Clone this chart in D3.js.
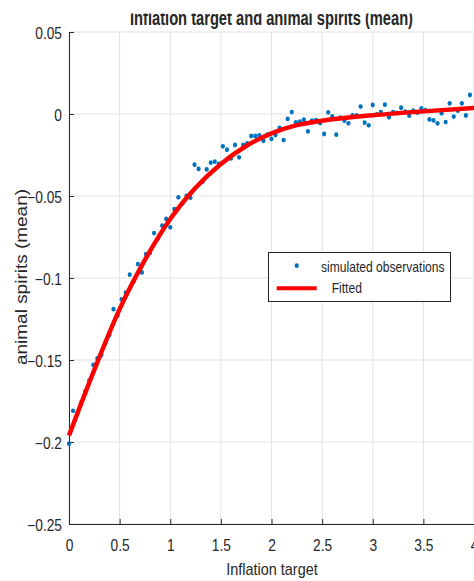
<!DOCTYPE html>
<meta charset="utf-8">
<script src="https://d3js.org/d3.v7.min.js"></script>
<style>
    body { margin: 0; background: #fff; }
    text { font-family: "Liberation Sans", Arial, sans-serif; fill: #262626; }
</style>
<div id="my_dataviz"></div>
<script>
    // simulated observations (inflation target, animal spirits mean)
    var obsX = [0, 0.04, 0.08, 0.12, 0.16, 0.20, 0.24, 0.28, 0.32, 0.36, 0.40, 0.44, 0.48, 0.52, 0.56, 0.60, 0.64, 0.68, 0.72, 0.76,
        0.80, 0.84, 0.88, 0.92, 0.96, 1.00, 1.04, 1.08, 1.12, 1.16, 1.20, 1.24, 1.28, 1.32, 1.36, 1.40, 1.44, 1.48, 1.52, 1.56,
        1.60, 1.64, 1.68, 1.72, 1.76, 1.80, 1.84, 1.88, 1.92, 1.96, 2.00, 2.04, 2.08, 2.12, 2.16, 2.20, 2.24, 2.28, 2.32, 2.36,
        2.40, 2.44, 2.48, 2.52, 2.56, 2.60, 2.64, 2.68, 2.72, 2.76, 2.80, 2.84, 2.88, 2.92, 2.96, 3.00, 3.04, 3.08, 3.12, 3.16,
        3.20, 3.24, 3.28, 3.32, 3.36, 3.40, 3.44, 3.48, 3.52, 3.56, 3.60, 3.64, 3.68, 3.72, 3.76, 3.80, 3.84, 3.88, 3.92, 3.96];
    var obsY = [-0.201, -0.181, -0.1826, -0.176, -0.169, -0.1626, -0.153, -0.149, -0.147, -0.1396, -0.1348, -0.119, -0.1228, -0.113, -0.109, -0.098, -0.102, -0.0915, -0.0966, -0.0854,
        -0.0848, -0.0726, -0.0758, -0.0681, -0.064, -0.0691, -0.058, -0.0508, -0.0545, -0.050, -0.051, -0.0309, -0.0335, -0.0413, -0.0338, -0.0297, -0.0291, -0.0305, -0.0197, -0.0218,
        -0.0271, -0.0189, -0.0264, -0.0189, -0.0179, -0.0134, -0.0134, -0.013, -0.0163, -0.0126, -0.0152, -0.0128, -0.0084, -0.0159, -0.003, 0.0012, -0.0051, -0.0047, -0.0035, -0.0106,
        -0.0041, -0.0037, -0.0055, -0.0122, 0.001, -0.0015, -0.0126, -0.0023, -0.0041, -0.0057, -0.0009, -0.0009, 0.0045, -0.0053, -0.0069, 0.0055, -0.0002, 0.0012, 0.0057, -0.002,
        0.0012, 0.0006, 0.0038, 0.0014, -0.001, 0.002, 0.0008, 0.0034, 0.0024, -0.0033, -0.0039, -0.0057, 0.0004, -0.0049, 0.0065, -0.0016, 0.002, 0.0065, -0.0009, 0.0116];

    // fitted curve
    var fitX = [0, 0.25, 0.5, 0.75, 1, 1.25, 1.5, 1.75, 2, 2.25, 2.5, 3, 3.5, 4];
    var fitY = [-0.196, -0.156, -0.119, -0.089, -0.064, -0.045, -0.0305, -0.0195, -0.0118, -0.0068, -0.0041, -0.0008, 0.0016, 0.0036];

    var xTicks = [0, 0.5, 1, 1.5, 2, 2.5, 3, 3.5, 4];
    var yTicks = [0.05, 0, -0.05, -0.1, -0.15, -0.2, -0.25];

    var margin = { top: 32, right: 0, bottom: 57, left: 69 },
        width = 474 - margin.left - margin.right,
        height = 581 - margin.top - margin.bottom;

    // the picture is stretched vertically, so squeeze text horizontally
    function narrow(sel, k) {
        sel.each(function () {
            var w = this.getComputedTextLength();
            d3.select(this).attr("textLength", w * k).attr("lengthAdjust", "spacingAndGlyphs");
        });
    }

    var root = d3.select("#my_dataviz")
        .append("svg")
        .attr("width", 474)
        .attr("height", 581);

    var svg = root.append("g")
        .attr("transform", "translate(" + margin.left + "," + margin.top + ")");

    var x = d3.scaleLinear().domain([0, 4]).range([0, 405]);
    var y = d3.scaleLinear().domain([-0.25, 0.05]).range([height, 0]);

    // grid
    svg.append("g")
        .selectAll("line")
        .data(xTicks)
        .enter().append("line")
        .attr("x1", function (d) { return x(d); })
        .attr("x2", function (d) { return x(d); })
        .attr("y1", 0).attr("y2", height)
        .attr("stroke", "#e3e3e3");
    svg.append("g")
        .selectAll("line")
        .data(yTicks)
        .enter().append("line")
        .attr("x1", 0).attr("x2", x(4))
        .attr("y1", function (d) { return y(d); })
        .attr("y2", function (d) { return y(d); })
        .attr("stroke", "#e3e3e3");

    // axes (ticks pointing inward)
    var fmt = function (d) { return d3.format("")(d); };
    var xAxis = svg.append("g")
        .attr("transform", "translate(0," + height + ")")
        .call(d3.axisBottom(x).tickValues(xTicks).tickSizeInner(-5).tickSizeOuter(0).tickFormat(fmt));
    var yAxis = svg.append("g")
        .call(d3.axisLeft(y).tickValues(yTicks).tickSizeInner(-5).tickSizeOuter(0).tickPadding(7).tickFormat(fmt));
    [xAxis, yAxis].forEach(function (a) {
        a.select(".domain").attr("stroke", "#262626");
        a.selectAll(".tick line").attr("stroke", "#262626");
        a.selectAll(".tick text").style("font-size", "15.8px").attr("fill", "#262626");
        narrow(a.selectAll(".tick text"), 0.87);
    });
    xAxis.selectAll(".tick text").attr("y", 26.7).attr("dy", 0);
    yAxis.selectAll(".tick text").attr("dy", "0.38em");

    // scatter
    svg.append("g")
        .selectAll("ellipse")
        .data(obsX)
        .enter().append("ellipse")
        .attr("cx", function (d) { return x(d); })
        .attr("cy", function (d, i) { return y(obsY[i]); })
        .attr("rx", 2.1)
        .attr("ry", 2.4)
        .attr("fill", "#0072BD");

    // fitted line
    var line = d3.line()
        .x(function (d) { return x(d); })
        .y(function (d, i) { return y(fitY[i]); })
        .curve(d3.curveMonotoneX);
    svg.append("path")
        .datum(fitX)
        .attr("d", line)
        .attr("fill", "none")
        .attr("stroke", "#FF0000")
        .attr("stroke-width", 4.5);

    // legend
    var legend = root.append("g");
    legend.append("rect")
        .attr("x", 268.5).attr("y", 252.5)
        .attr("width", 182).attr("height", 49)
        .attr("fill", "#fff")
        .attr("stroke", "#262626");
    legend.append("ellipse")
        .attr("cx", 296.7).attr("cy", 265.7).attr("rx", 2.1).attr("ry", 2.4)
        .attr("fill", "#0072BD");
    legend.append("line")
        .attr("x1", 276.7).attr("x2", 316.7)
        .attr("y1", 288.3).attr("y2", 288.3)
        .attr("stroke", "#FF0000").attr("stroke-width", 4);
    var legText = legend.selectAll("text")
        .data([["simulated observations", 321, 271.7], ["Fitted", 331.7, 293.3]])
        .enter().append("text")
        .attr("x", function (d) { return d[1]; })
        .attr("y", function (d) { return d[2]; })
        .style("font-size", "13.9px")
        .text(function (d) { return d[0]; });
    narrow(legText, 0.87);

    // labels
    var xLabel = root.append("text")
        .attr("x", 272).attr("y", 575)
        .attr("text-anchor", "middle")
        .style("font-size", "16.6px")
        .text("Inflation target");
    narrow(xLabel, 0.87);
    root.append("text")
        .attr("transform", "translate(27,277)rotate(-90)")
        .attr("text-anchor", "middle")
        .style("font-size", "16px")
        .attr("textLength", 176)
        .attr("lengthAdjust", "spacingAndGlyphs")
        .text("animal spirits (mean)");

    // title, its top is cut off in the picture
    root.append("text")
        .attr("x", 271.5).attr("y", 25)
        .attr("text-anchor", "middle")
        .style("font-size", "19.5px")
        .style("font-weight", "bold")
        .attr("fill", "#000")
        .attr("textLength", 283)
        .attr("lengthAdjust", "spacingAndGlyphs")
        .text("Inflation target and animal spirits (mean)");
    root.append("rect")
        .attr("x", 0).attr("y", 0)
        .attr("width", 474).attr("height", 13.5)
        .attr("fill", "#fff");
</script>
